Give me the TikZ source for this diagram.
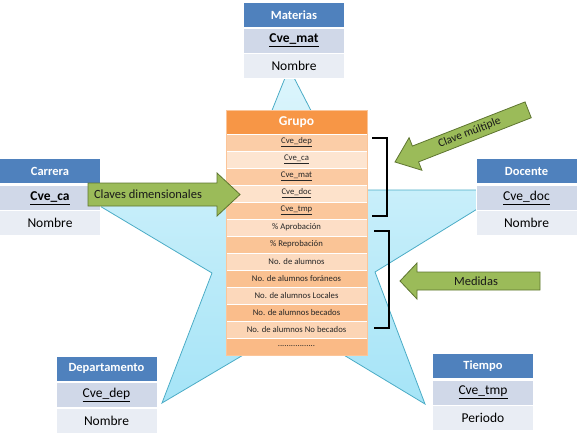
\documentclass[tikz,border=0pt]{standalone}
\usepackage{fontspec}
\setmainfont{Carlito}
\usepackage{xcolor}
\definecolor{azulEnc}{HTML}{4F81BD}
\definecolor{azulClave}{HTML}{D0D8E8}
\definecolor{azulAtrib}{HTML}{E9EDF4}
\definecolor{naranja}{HTML}{F79646}
\definecolor{verdeFlecha}{HTML}{9BBB59}
\definecolor{verdeBorde}{HTML}{5E7530}
\definecolor{cieloBorde}{HTML}{4BACC6}
\definecolor{cieloClaro}{HTML}{DDF5FC}
\definecolor{cieloFuerte}{HTML}{A5E4F7}
\newcommand\puntosfila{.................}

\begin{document}
\begin{tikzpicture}[x=1pt, y=-1pt,
	encab/.style={fill=azulEnc, draw=white, line width=0.8pt, minimum width=101pt, minimum height=25pt, text=white, font=\fontsize{12.5}{14}\selectfont\bfseries},
	clave/.style={encab, fill=azulClave, text=black, font=\fontsize{13.5}{15}\selectfont},
	atrib/.style={clave, fill=azulAtrib},
	fila/.style={draw=white, line width=0.6pt, minimum width=141pt, minimum height=17pt, inner sep=0pt, text=black!85, font=\fontsize{8.7}{10}\selectfont},
	flecha/.style={fill=verdeFlecha, draw=verdeBorde, line width=0.8pt, line join=miter},
	corchete/.style={line width=2.4pt, black}]
	\useasboundingbox (0,0) rectangle (578,437);

	% estrella
	\draw[cieloBorde, line width=0.8pt, top color=cieloClaro, bottom color=cieloFuerte] (289,68) -- (352,190) -- (508,190) -- (375,272) -- (425,404) -- (294,325) -- (162,403) -- (212,273) -- (73,190) -- (240,190) -- cycle;

	% tabla de hechos
	\node[fila, fill=naranja, text=white, minimum height=24pt, font=\fontsize{13.5}{15}\selectfont\bfseries] (grupo) at (296.5,122) {Grupo};
	\foreach \txt [count=\i] in {\underline{Cve\_dep}, \underline{Cve\_ca}, \underline{Cve\_mat}, \underline{Cve\_doc}, \underline{Cve\_tmp}, \% Aprobación, \% Reprobación, No. de alumnos, No. de alumnos foráneos, No. de alumnos Locales, No. de alumnos becados, No. de alumnos No becados, \puntosfila}{
		\pgfmathsetmacro\tono{(isodd(\i) ? 46 : 22) + 1.5*\i}
		\node[fila, fill=naranja!\tono!white] (g\i) at (296.5,{125.5+17*\i}) {\txt};
	}
	\draw[naranja!55!white, line width=0.6pt] (226,110) rectangle (367,355);

	% dimensiones
	\node[encab] (materias) at (294,15) {Materias};
	\node[clave] (matClave) at (294,40.5) {\textbf{\underline{Cve\_mat}}};
	\node[atrib] (matNombre) at (294,66) {Nombre};

	\node[encab] (carrera) at (50,171) {Carrera};
	\node[clave] (carClave) at (50,198) {\textbf{\underline{Cve\_ca}}};
	\node[atrib] (carNombre) at (50,223) {Nombre};

	\node[encab] (docente) at (526.5,171) {Docente};
	\node[clave] (docClave) at (526.5,198) {\underline{Cve\_doc}};
	\node[atrib] (docNombre) at (526.5,223) {Nombre};

	\node[encab] (depto) at (106.5,368.5) {Departamento};
	\node[clave] (depClave) at (106.5,395) {\underline{Cve\_dep}};
	\node[atrib] (depNombre) at (106.5,421) {Nombre};

	\node[encab] (tiempo) at (483,366) {Tiempo};
	\node[clave] (tmpClave) at (483,392.5) {\underline{Cve\_tmp}};
	\node[atrib] (tmpPeriodo) at (483,418) {Periodo};

	% corchetes
	\draw[corchete] (372,138) -- (387,138) -- (387,216) -- (372,216);
	\draw[corchete] (374,231) -- (389,231) -- (389,328) -- (374,328);

	% flechas
	\draw[flecha] (88,183) -- (217,183) -- (217,173) -- (240,194.5) -- (217,216) -- (217,206) -- (88,206) -- cycle;
	\node[font=\fontsize{12.5}{14}\selectfont, text=black!90] (lblDim) at (148,194.5) {Claves dimensionales};

	\draw[flecha] (400,281) -- (417,263) -- (417,272) -- (540,272) -- (540,290) -- (417,290) -- (417,299) -- cycle;
	\node[font=\fontsize{12.5}{14}\selectfont, text=black!90] (lblMed) at (476,281) {Medidas};

	\begin{scope}[shift={(395,162)}, rotate=21.4]
		\draw[flecha] (0,0) -- (22,-17.5) -- (22,-8.5) -- (143,-8.5) -- (143,8.5) -- (22,8.5) -- (22,17.5) -- cycle;
		\node[rotate=21.4, font=\fontsize{11.5}{13}\selectfont, text=black!90] (lblMul) at (80,0) {Clave múltiple};
	\end{scope}
\end{tikzpicture}
\end{document}
